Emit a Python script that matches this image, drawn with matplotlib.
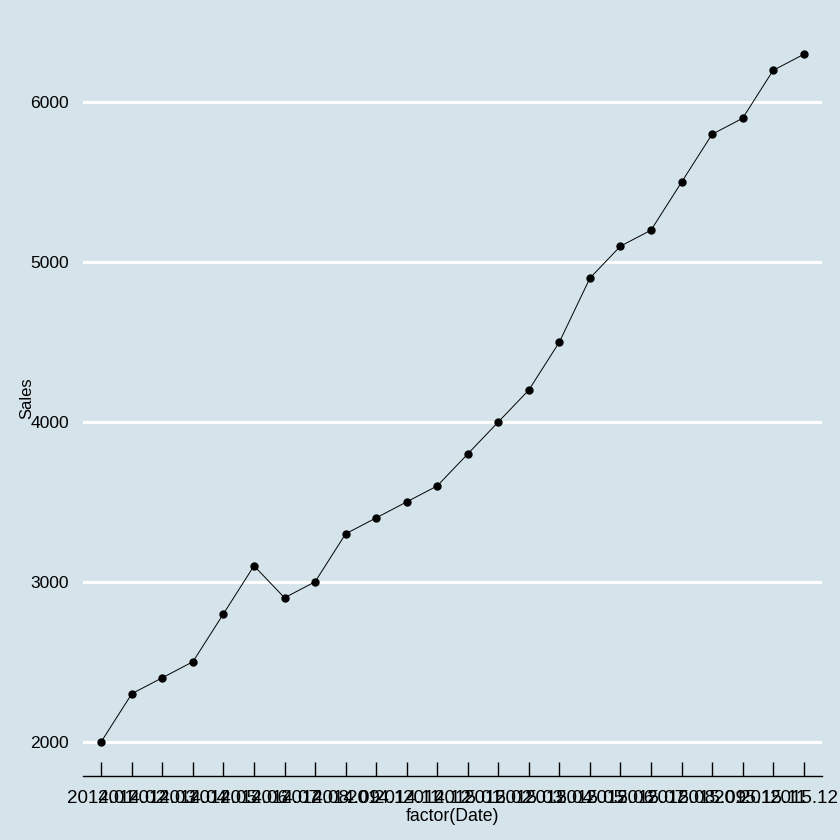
import matplotlib.pyplot as plt

# monthly sales, 2014.01 to 2015.12
dates = ['2014.01', '2014.02', '2014.03', '2014.04', '2014.05', '2014.06',
         '2014.07', '2014.08', '2014.09', '2014.1', '2014.11', '2014.12',
         '2015.01', '2015.02', '2015.03', '2015.04', '2015.05', '2015.06',
         '2015.07', '2015.08', '2015.09', '2015.1', '2015.11', '2015.12']
sales = [2000, 2300, 2400, 2500, 2800, 3100, 2900, 3000, 3300, 3400, 3500, 3600,
         3800, 4000, 4200, 4500, 4900, 5100, 5200, 5500, 5800, 5900, 6200, 6300]

plt.rcParams['font.family'] = ['Liberation Sans', 'DejaVu Sans']
bg = '#d5e4eb'

fig = plt.figure(figsize=(8.4, 8.4), dpi=100, facecolor=bg)
ax = fig.add_axes([83 / 840, 1 - 776 / 840, (822 - 83) / 840, (776 - 20) / 840])
ax.set_facecolor(bg)

x = list(range(1, len(dates) + 1))
lo, hi = min(sales), max(sales)
pad = (hi - lo) * 0.05
ax.set_ylim(lo - pad, hi + pad)
ax.set_xlim(0.4, len(dates) + 0.6)

for yv in [2000, 3000, 4000, 5000, 6000]:
    ax.axhline(yv, color='white', lw=2.2, zorder=1)

ax.plot(x, sales, color='black', lw=0.7, zorder=2)
ax.plot(x, sales, 'o', color='black', ms=5, zorder=3)

ax.set_xticks(x)
ax.set_xticklabels(dates, fontsize=13.5)
ax.set_yticks([2000, 3000, 4000, 5000, 6000])
ax.set_yticklabels(['2000', '3000', '4000', '5000', '6000'], fontsize=12.6)

for s in ['top', 'right', 'left']:
    ax.spines[s].set_visible(False)
ax.spines['bottom'].set_color('black')
ax.spines['bottom'].set_linewidth(1)
ax.tick_params(axis='x', direction='in', length=10, width=1, pad=10, colors='black')
ax.tick_params(axis='y', length=0, pad=10, colors='black')

ax.set_xlabel('factor(Date)', fontsize=12.7, labelpad=1)
ax.set_ylabel('Sales', fontsize=12, labelpad=-3)

fig.savefig('out.png', dpi=100, facecolor=bg)
